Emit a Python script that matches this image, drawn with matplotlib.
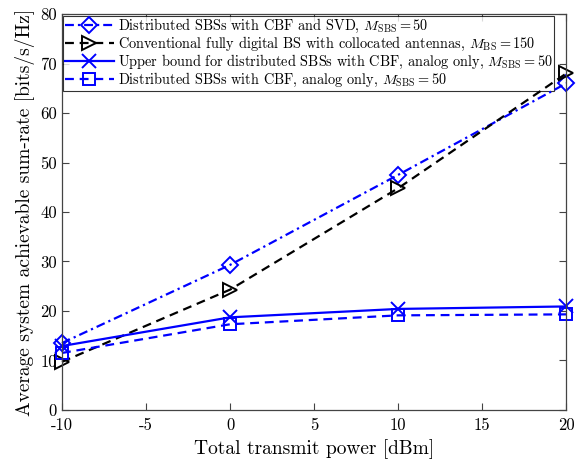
import matplotlib
matplotlib.use("Agg")
import matplotlib.pyplot as plt

plt.rcParams['font.family'] = 'serif'
plt.rcParams['font.serif'] = ['cmr10', 'DejaVu Serif']
plt.rcParams['mathtext.fontset'] = 'cm'
plt.rcParams['axes.unicode_minus'] = False
plt.rcParams['axes.formatter.use_mathtext'] = True

# transmit power [dBm]
power = [-10, 0, 10, 20]
# sum-rate [bits/s/Hz]
svd_rate = [13.5, 29.3, 47.5, 66.0]
digital_rate = [9.7, 24.3, 44.8, 68.0]
upper_rate = [12.9, 18.7, 20.4, 20.9]
analog_rate = [11.5, 17.3, 19.1, 19.3]

labels = [
    r'Distributed SBSs with CBF and SVD, $M_{\rm SBS}=50$',
    r'Conventional fully digital BS with collocated antennas, $M_{\rm BS}=150$',
    r'Upper bound for distributed SBSs with CBF, analog only, $M_{\rm SBS}=50$',
    r'Distributed SBSs with CBF, analog only, $M_{\rm SBS}=50$',
]
xticks = [-10, -5, 0, 5, 10, 15, 20]
yticks = [0, 10, 20, 30, 40, 50, 60, 70, 80]

fig = plt.figure(figsize=(5.79, 4.70), dpi=100)
ax = fig.add_axes([0.107, 0.128, 0.871, 0.842])

ax.plot(power, svd_rate, color='blue', lw=1.6, dashes=(4, 1.8, 1, 1.8),
        marker='D', ms=8, mfc='none', mew=1.4, label=labels[0], clip_on=False)
ax.plot(power, digital_rate, color='black', lw=1.6, dashes=(4, 2.6),
        marker='>', ms=10, mfc='none', mew=1.4, label=labels[1], clip_on=False)
ax.plot(power, upper_rate, '-', color='blue', lw=1.6, marker='x', ms=10,
        mew=1.4, label=labels[2], clip_on=False)
ax.plot(power, analog_rate, color='blue', lw=1.6, dashes=(4, 2.6),
        marker='s', ms=8, mfc='none', mew=1.4, label=labels[3], clip_on=False)

ax.set_xlim(-10, 20)
ax.set_ylim(0, 80)
ax.set_xticks(xticks)
ax.set_xticklabels([str(t) for t in xticks])
ax.set_yticks(yticks)
ax.set_yticklabels([str(t) for t in yticks])
ax.tick_params(direction='in', top=True, right=True, labelsize=12, length=5,
               color='#444444')
ax.tick_params(axis='x', pad=6)
for s in ax.spines.values():
    s.set_color('#444444')
    s.set_linewidth(0.9)

ax.set_xlabel('Total transmit power [dBm]', fontsize=14)
ax.set_ylabel('Average system achievable sum-rate [bits/s/Hz]', fontsize=14)

leg = ax.legend(loc='upper left', fontsize=10.3, frameon=True, fancybox=False,
                edgecolor='black', borderaxespad=0.1, handlelength=3.4,
                labelspacing=0.0, borderpad=0.12, handletextpad=0.3)
leg.get_frame().set_linewidth(0.8)
leg.set_zorder(1.5)

fig.savefig('out.png', dpi=100)
